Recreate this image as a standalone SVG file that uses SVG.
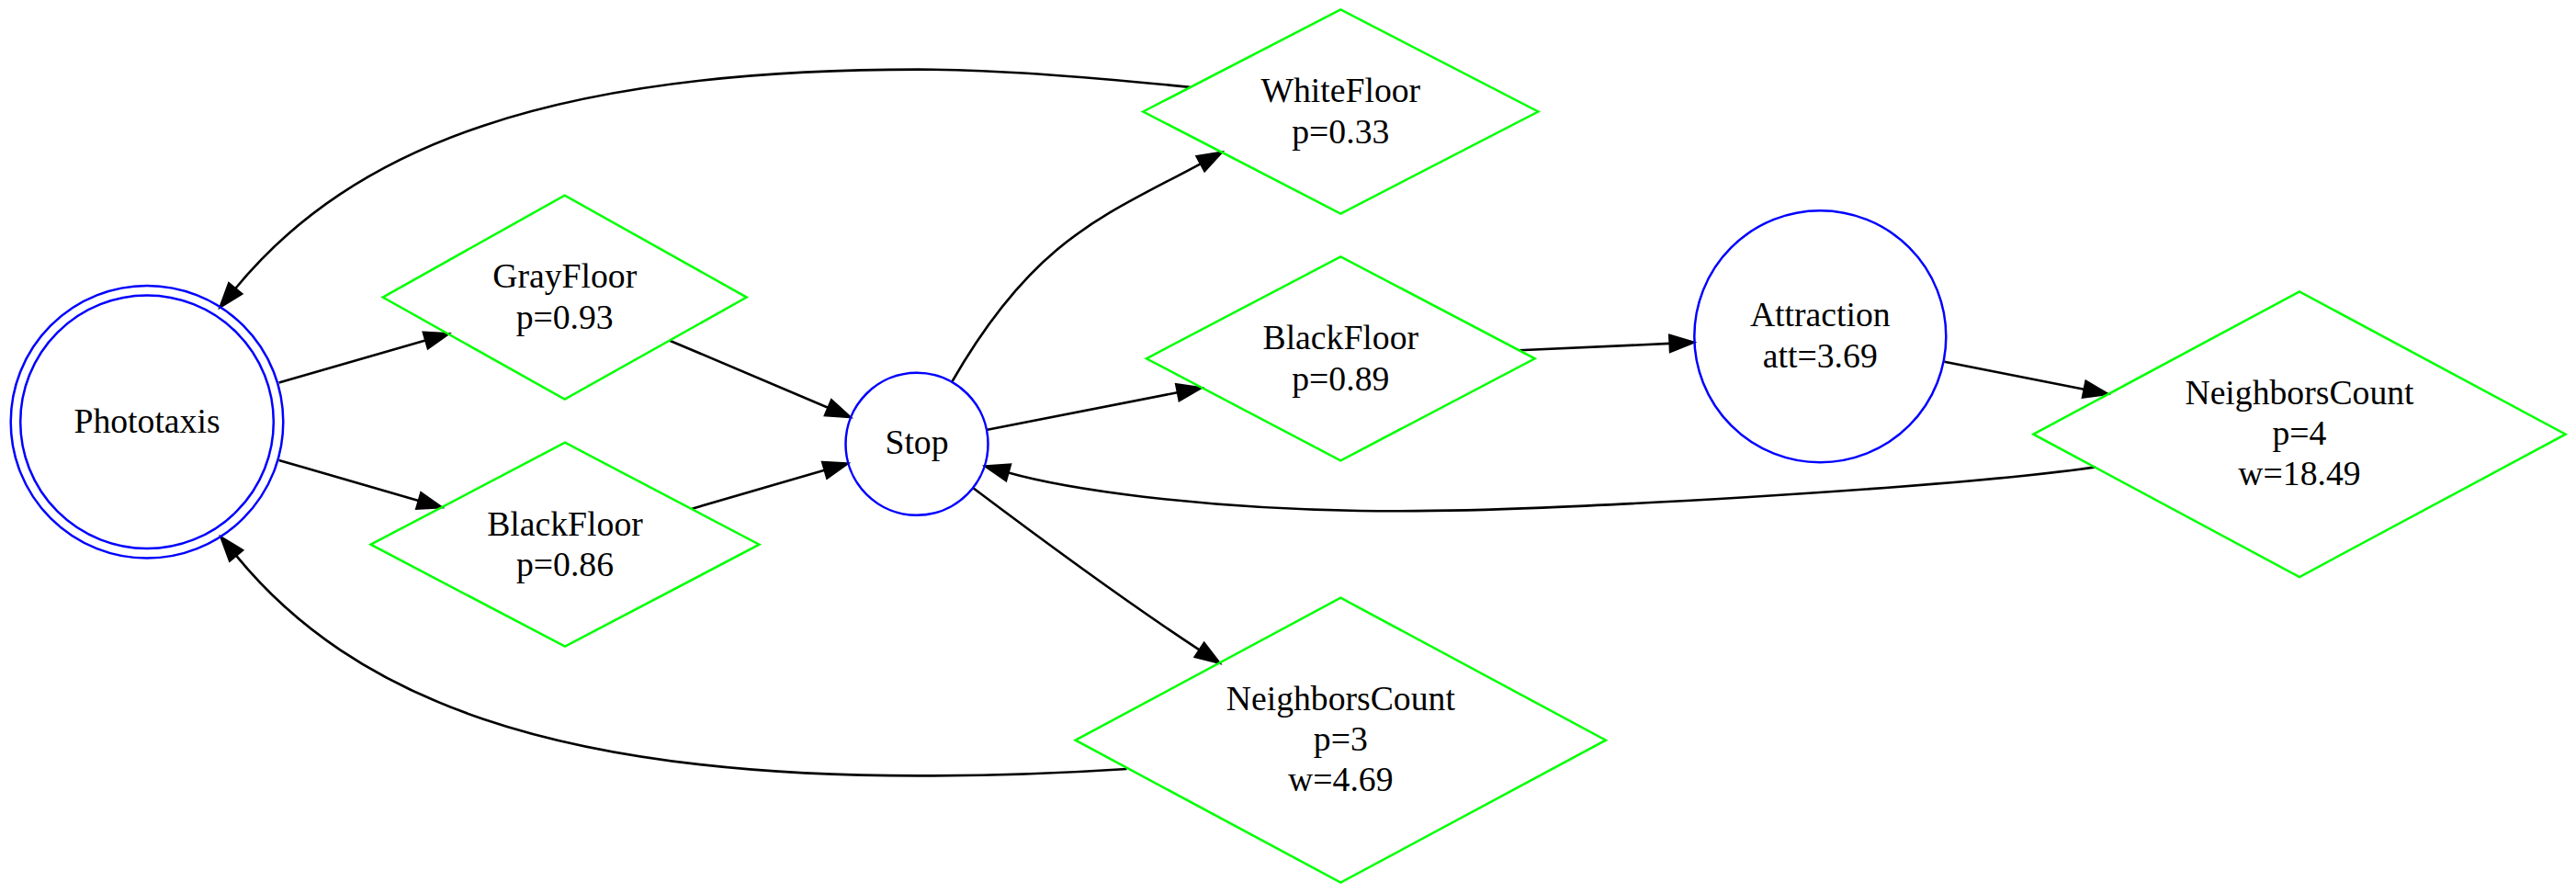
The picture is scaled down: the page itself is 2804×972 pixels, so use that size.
<svg xmlns="http://www.w3.org/2000/svg" width="2804" height="972" viewBox="0 0 2804 972">
<style>
.bg{fill:#ffffff}
.circ{fill:none;stroke:#0000ff;stroke-width:2.5}
.dia{fill:none;stroke:#00ff00;stroke-width:2.5}
.edge{fill:none;stroke:#000000;stroke-width:2.6;marker-end:url(#ah)}
text{font-family:"Liberation Serif","Times New Roman",Times,serif;font-size:37.7px;fill:#000000;text-anchor:middle}
</style>
<defs>
<marker id="ah" markerUnits="userSpaceOnUse" viewBox="0 0 28 20" markerWidth="28" markerHeight="20" refX="0" refY="10" orient="auto" overflow="visible">
<path d="M0,0.6 L27,10 L0,19.4 z" fill="#000000" stroke="#000000" stroke-width="2"/>
</marker>
</defs>
<rect class="bg" x="0" y="0" width="2804" height="972"/>
<g id="connectors">
<path id="e_photo_gray" class="edge" d="M303.6,416.6 L463.1,370.5"/>
<path id="e_photo_black" class="edge" d="M303.6,500.9 L455.6,545"/>
<path id="e_gray_stop" class="edge" d="M729,370.7 L901.3,443.7"/>
<path id="e_black_stop" class="edge" d="M752.6,553.9 L897.5,511.8"/>
<path id="e_stop_white" class="edge" d="M1036,416 C1125.5,260 1201.1,235.3 1306.7,178.3"/>
<path id="e_stop_blackR" class="edge" d="M1073.5,468 L1281.7,427.2"/>
<path id="e_blackR_attr" class="edge" d="M1653.8,381.3 L1817.4,373.9"/>
<path id="e_attr_nc4" class="edge" d="M2116.5,393.7 L2268.5,423.7"/>
<path id="e_nc4_stop" class="edge" d="M2281,508.4 C2200,520 2050,532 1900,541.2 C1750,550 1600,558 1480,556 C1300,553 1160,532 1097.7,514.5"/>
<path id="e_stop_nc3" class="edge" d="M1059.4,531.3 C1140,592 1230,658 1305.5,707.3"/>
<path id="e_white_photo" class="edge" d="M1295.4,94.9 C1190,84 1080,75.6 1000,75.6 C600,75.6 383.3,159.6 256.3,314"/>
<path id="e_nc3_photo" class="edge" d="M1226.5,837 C1150,842 1080,844.4 1000,844.4 C600,844.4 384,759.6 257.2,604.9"/>
</g>
<g id="node_Phototaxis">
<circle class="circ" cx="160" cy="459.3" r="148.3"/>
<circle class="circ" cx="160" cy="459.3" r="137.8"/>
<text x="160" y="471.2">Phototaxis</text>
</g>
<g id="node_GrayFloor">
<polygon class="dia" points="416.7,323.6 614.7,212.6 812.7,323.6 614.7,434.6"/>
<text x="614.7" y="313">GrayFloor</text>
<text x="614.7" y="357.7">p=0.93</text>
</g>
<g id="node_BlackFloor1">
<polygon class="dia" points="403.6,592.7 615,481.7 826.4,592.7 615,703.7"/>
<text x="615" y="582.5">BlackFloor</text>
<text x="615" y="627">p=0.86</text>
</g>
<g id="node_Stop">
<circle class="circ" cx="998" cy="483.3" r="77.5"/>
<text x="998" y="494.3">Stop</text>
</g>
<g id="node_WhiteFloor">
<polygon class="dia" points="1244.3,121.5 1459.3,10.5 1674.3,121.5 1459.3,232.5"/>
<text x="1459.3" y="111">WhiteFloor</text>
<text x="1459.3" y="155.5">p=0.33</text>
</g>
<g id="node_BlackFloor2">
<polygon class="dia" points="1247.9,390.3 1459.3,279.3 1670.7,390.3 1459.3,501.3"/>
<text x="1459.3" y="380">BlackFloor</text>
<text x="1459.3" y="424.5">p=0.89</text>
</g>
<g id="node_NeighborsCount3">
<polygon class="dia" points="1170.7,805.7 1459.3,650.7 1747.9,805.7 1459.3,960.7"/>
<text x="1459.3" y="773.3">NeighborsCount</text>
<text x="1459.3" y="817.3">p=3</text>
<text x="1459.3" y="861.3">w=4.69</text>
</g>
<g id="node_Attraction">
<circle class="circ" cx="1981.3" cy="366.3" r="137"/>
<text x="1981.3" y="355">Attraction</text>
<text x="1981.3" y="399.5">att=3.69</text>
</g>
<g id="node_NeighborsCount4">
<polygon class="dia" points="2213.4,472.7 2503,317.4 2792.6,472.7 2503,628"/>
<text x="2503" y="440">NeighborsCount</text>
<text x="2503" y="484">p=4</text>
<text x="2503" y="528">w=18.49</text>
</g>
</svg>
